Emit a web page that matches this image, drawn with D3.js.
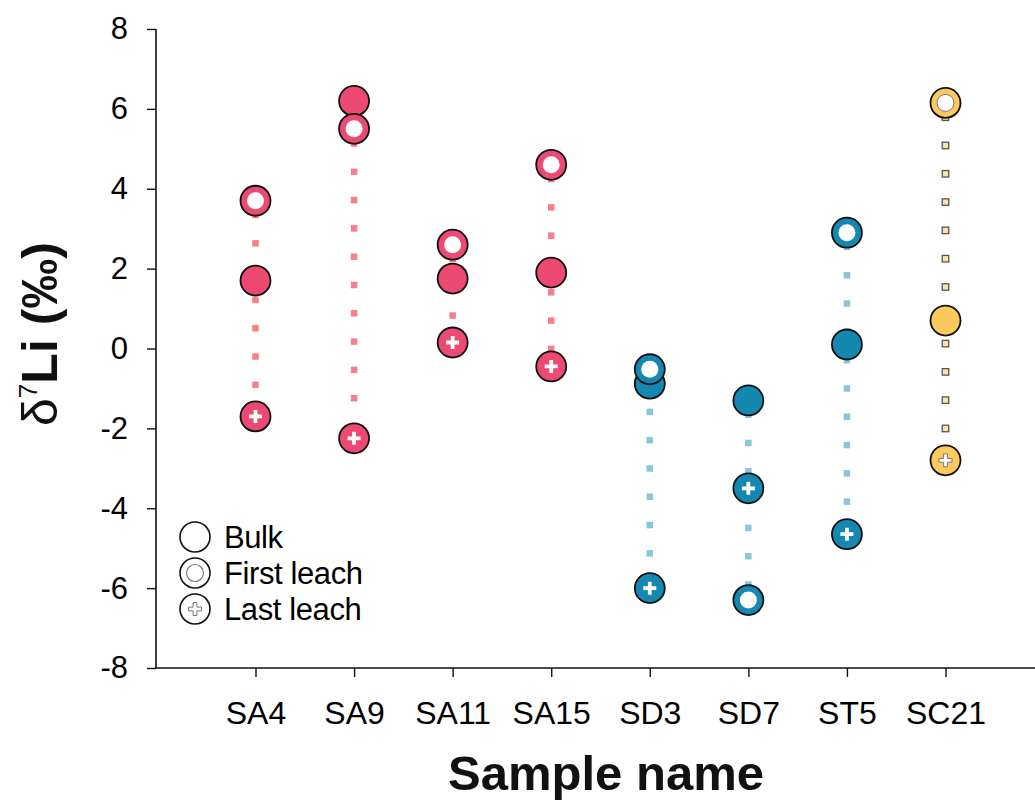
<!DOCTYPE html>
<html>
<head>
<meta charset="utf-8">
<script src="https://cdn.jsdelivr.net/npm/d3@7"></script>
<style>
  body { margin: 0; background: #fff; }
  text { font-family: "Liberation Sans", Arial, sans-serif; }
</style>
</head>
<body>
<svg id="chart" width="1035" height="807"></svg>
<script>
// samples and values (delta 7Li, permil)
var samples = ["SA4", "SA9", "SA11", "SA15", "SD3", "SD7", "ST5", "SC21"];
var bulk = [1.7, 6.2, 1.75, 1.9, -0.88, -1.3, 0.1, 0.7];
var firstLeach = [3.7, 5.5, 2.6, 4.6, -0.52, -6.3, 2.9, 6.15];
var lastLeach = [-1.7, -2.25, 0.15, -0.45, -6.0, -3.5, -4.65, -2.8];
var groups = ["A", "A", "A", "A", "D", "D", "T", "C"];
var yTicks = [-8, -6, -4, -2, 0, 2, 4, 6, 8];

var fillColor = { A: "#ec4a72", D: "#1488b0", T: "#1488b0", C: "#fdc95e" };
var dotColor = { A: "#f77f86", D: "#88c6dc", T: "#88c6dc", C: "#fde4a6" };

var svg = d3.select("#chart");

var x = d3.scalePoint()
    .domain(samples)
    .range([255.5, 945.5]);

var y = d3.scaleLinear()
    .domain([-8, 8])
    .range([668, 29]);

// y axis
var yAxis = svg.append("g")
    .attr("transform", "translate(156,0)")
    .call(d3.axisLeft(y).tickValues(yTicks).tickSize(9).tickPadding(19).tickFormat(d3.format("d")));
yAxis.select(".domain").attr("stroke", "#111").attr("stroke-width", 1.6).attr("d", "M0," + y(8) + "V" + y(-8));
yAxis.selectAll(".tick line").attr("stroke", "#111").attr("stroke-width", 1.4);
yAxis.selectAll(".tick text").attr("font-size", 31).attr("fill", "#000")
    .style("font-family", "'Liberation Sans', Arial, sans-serif")
    .text(function(d) { return d < 0 ? "-" + Math.abs(d) : d; });

// x axis
var xAxis = svg.append("g")
    .attr("transform", "translate(0," + y(-8) + ")")
    .call(d3.axisBottom(x).tickSize(9).tickPadding(24));
xAxis.select(".domain").attr("stroke", "#111").attr("stroke-width", 1.6).attr("d", "M155,0H1035");
xAxis.selectAll(".tick line").attr("stroke", "#111").attr("stroke-width", 1.4);
xAxis.selectAll(".tick text").attr("font-size", 32).attr("fill", "#000")
    .style("font-family", "'Liberation Sans', Arial, sans-serif");

// axis titles
svg.append("text")
    .attr("x", 606)
    .attr("y", 790)
    .attr("text-anchor", "middle")
    .attr("font-size", 49)
    .attr("font-weight", "bold")
    .attr("fill", "#111")
    .text("Sample name");

var yTitle = svg.append("text")
    .attr("transform", "translate(57,334) rotate(-90)")
    .attr("text-anchor", "middle")
    .attr("font-size", 50)
    .attr("font-weight", "bold")
    .attr("fill", "#111");
yTitle.append("tspan").attr("font-weight", "normal").text("\u03b4");
yTitle.append("tspan").attr("font-size", 26).attr("font-weight", "normal").attr("dy", -20).text("7");
yTitle.append("tspan").attr("dy", 20).text("Li (\u2030)");

// dotted connectors, drawn as little squares along each sample's range
var step = 28.3, lead = 14.3, sq = 6.5;
samples.forEach(function(s, i) {
    var vals = [bulk[i], firstLeach[i], lastLeach[i]];
    var top = y(d3.max(vals)), bottom = y(d3.min(vals));
    var g = groups[i];
    var pos = d3.range(top + lead, bottom - 4, step);
    svg.append("g").selectAll("rect")
        .data(pos)
        .enter().append("rect")
        .attr("x", x(s) - sq / 2)
        .attr("y", function(p) { return p - sq / 2; })
        .attr("width", sq)
        .attr("height", sq)
        .attr("fill", dotColor[g])
        .attr("stroke", g === "C" ? "#555" : "none")
        .attr("stroke-width", 1.3);
});

var R = 15;

function plus(sel, cx, cy, fill, stroke) {
    var a = 6.5, t = 1.9;
    var d = "M" + (cx - t) + "," + (cy - a) + "H" + (cx + t) + "V" + (cy - t) + "H" + (cx + a) + "V" + (cy + t) +
        "H" + (cx + t) + "V" + (cy + a) + "H" + (cx - t) + "V" + (cy + t) + "H" + (cx - a) + "V" + (cy - t) +
        "H" + (cx - t) + "Z";
    sel.append("path").attr("d", d).attr("fill", fill).attr("stroke", stroke).attr("stroke-width", stroke === "none" ? 0 : 1);
}

var markers = svg.append("g");
samples.forEach(function(s, i) {
    var g = groups[i];
    var cx = x(s);
    var outline = g === "C" ? "#777" : "none";
    // bulk
    markers.append("circle").attr("cx", cx).attr("cy", y(bulk[i])).attr("r", R)
        .attr("fill", fillColor[g]).attr("stroke", "#111").attr("stroke-width", 1.8);
    // last leach
    var ly = y(lastLeach[i]);
    markers.append("circle").attr("cx", cx).attr("cy", ly).attr("r", R)
        .attr("fill", fillColor[g]).attr("stroke", "#111").attr("stroke-width", 1.8);
    plus(markers, cx, ly, "#fff", outline);
    // first leach
    var fy = y(firstLeach[i]);
    markers.append("circle").attr("cx", cx).attr("cy", fy).attr("r", R)
        .attr("fill", fillColor[g]).attr("stroke", "#111").attr("stroke-width", 1.8);
    markers.append("circle").attr("cx", cx).attr("cy", fy).attr("r", 8.5)
        .attr("fill", "#fff").attr("stroke", outline).attr("stroke-width", 1);
});

// legend
var legendItems = ["Bulk", "First leach", "Last leach"];
var legend = svg.append("g");
legendItems.forEach(function(name, i) {
    var cy = 537 + i * 36, cx = 195;
    legend.append("circle").attr("cx", cx).attr("cy", cy).attr("r", 15)
        .attr("fill", "#fff").attr("stroke", "#111").attr("stroke-width", 1.6);
    if (i === 1) {
        legend.append("circle").attr("cx", cx).attr("cy", cy).attr("r", 8.5)
            .attr("fill", "#fff").attr("stroke", "#777").attr("stroke-width", 1.2);
    }
    if (i === 2) plus(legend, cx, cy, "#fff", "#777");
    legend.append("text").attr("x", 224).attr("y", cy + 11)
        .attr("font-size", 31).attr("fill", "#000")
        .attr("letter-spacing", -0.4)
        .text(name);
});
</script>
</body>
</html>
